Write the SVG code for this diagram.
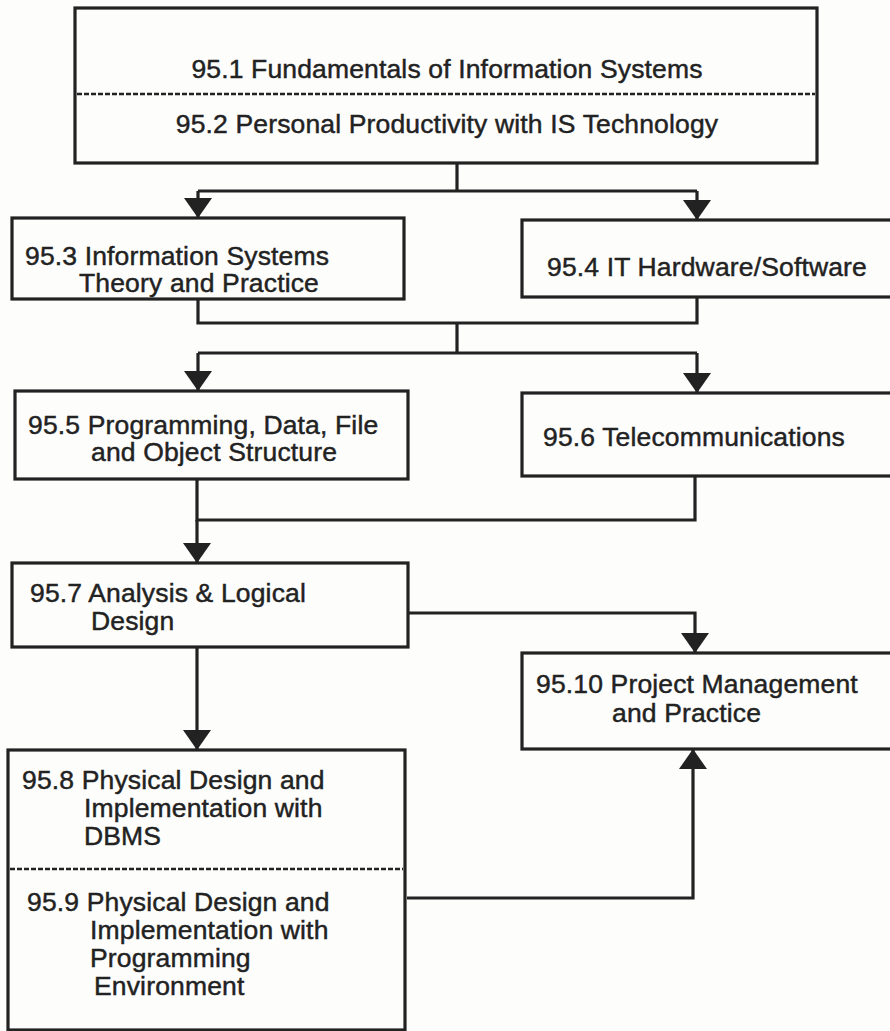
<svg xmlns="http://www.w3.org/2000/svg" width="890" height="1031" viewBox="0 0 890 1031">
  <style>
    .box { fill: none; stroke: #222; stroke-width: 3.2; }
    .sep { stroke: #222; stroke-width: 2.5; stroke-dasharray: 5 2; }
    .wire { fill: none; stroke: #222; stroke-width: 3.2; stroke-linecap: butt; stroke-linejoin: miter; }
    text { font-family: "Liberation Sans", Arial, Helvetica, sans-serif; font-size: 26.5px; letter-spacing: 0.15px; fill: #222; stroke: #222; stroke-width: 0.45; }
    .mid { text-anchor: middle; }
  </style>
  <defs>
    <marker id="arrow" markerUnits="userSpaceOnUse" markerWidth="22" markerHeight="30" refX="20" refY="14" orient="auto">
      <path d="M0,0 L20,14 L0,28 Z" fill="#222"/>
    </marker>
  </defs>

  <rect x="0" y="0" width="890" height="1031" fill="#fdfdfc"/>

  <!-- connectors -->
  <g id="connectors">
    <path class="wire" d="M457,163 V191"/>
    <path class="wire" d="M198,191 H697"/>
    <path class="wire" d="M198,191 V218" marker-end="url(#arrow)"/>
    <path class="wire" d="M697,191 V220" marker-end="url(#arrow)"/>

    <path class="wire" d="M198,299 V323 H697 V297"/>
    <path class="wire" d="M457,323 V353"/>
    <path class="wire" d="M198,353 H697"/>
    <path class="wire" d="M198,353 V391" marker-end="url(#arrow)"/>
    <path class="wire" d="M697,353 V393" marker-end="url(#arrow)"/>

    <path class="wire" d="M197,479 V520 H695 V476"/>
    <path class="wire" d="M197,520 V563" marker-end="url(#arrow)"/>

    <path class="wire" d="M408,613 H695 V653" marker-end="url(#arrow)"/>
    <path class="wire" d="M197,647 V750" marker-end="url(#arrow)"/>
    <path class="wire" d="M407,898 H693 V749" marker-end="url(#arrow)"/>
  </g>

  <!-- 95.1 / 95.2 -->
  <g id="n95-1-2">
    <rect class="box" x="75" y="8" width="742" height="155"/>
    <line class="sep" x1="77" y1="94" x2="815" y2="94"/>
    <text class="mid" x="447" y="78">95.1 Fundamentals of Information Systems</text>
    <text class="mid" x="447" y="133">95.2 Personal Productivity with IS Technology</text>
  </g>

  <!-- 95.3 -->
  <g id="n95-3">
    <rect class="box" x="12" y="218" width="392" height="81"/>
    <text x="25" y="265">95.3 Information Systems</text>
    <text x="79" y="292">Theory and Practice</text>
  </g>

  <!-- 95.4 -->
  <g id="n95-4">
    <rect class="box" x="522" y="220" width="380" height="77"/>
    <text x="547" y="276">95.4 IT Hardware/Software</text>
  </g>

  <!-- 95.5 -->
  <g id="n95-5">
    <rect class="box" x="15" y="391" width="393" height="88"/>
    <text x="28" y="434">95.5 Programming, Data, File</text>
    <text x="91" y="461">and Object Structure</text>
  </g>

  <!-- 95.6 -->
  <g id="n95-6">
    <rect class="box" x="522" y="393" width="380" height="83"/>
    <text x="543" y="446">95.6 Telecommunications</text>
  </g>

  <!-- 95.7 -->
  <g id="n95-7">
    <rect class="box" x="12" y="563" width="396" height="84"/>
    <text x="30" y="602">95.7 Analysis &amp; Logical</text>
    <text x="91" y="630">Design</text>
  </g>

  <!-- 95.10 -->
  <g id="n95-10">
    <rect class="box" x="522" y="653" width="380" height="96"/>
    <text x="536" y="693">95.10 Project Management</text>
    <text x="612" y="722">and Practice</text>
  </g>

  <!-- 95.8 / 95.9 -->
  <g id="n95-8-9">
    <rect class="box" x="8" y="750" width="397" height="280"/>
    <line class="sep" x1="10" y1="869" x2="403" y2="869"/>
    <text x="22" y="789">95.8 Physical Design and</text>
    <text x="84" y="817">Implementation with</text>
    <text x="84" y="845">DBMS</text>
    <text x="27" y="911">95.9 Physical Design and</text>
    <text x="90" y="939">Implementation with</text>
    <text x="90" y="967">Programming</text>
    <text x="94" y="995">Environment</text>
  </g>
</svg>
